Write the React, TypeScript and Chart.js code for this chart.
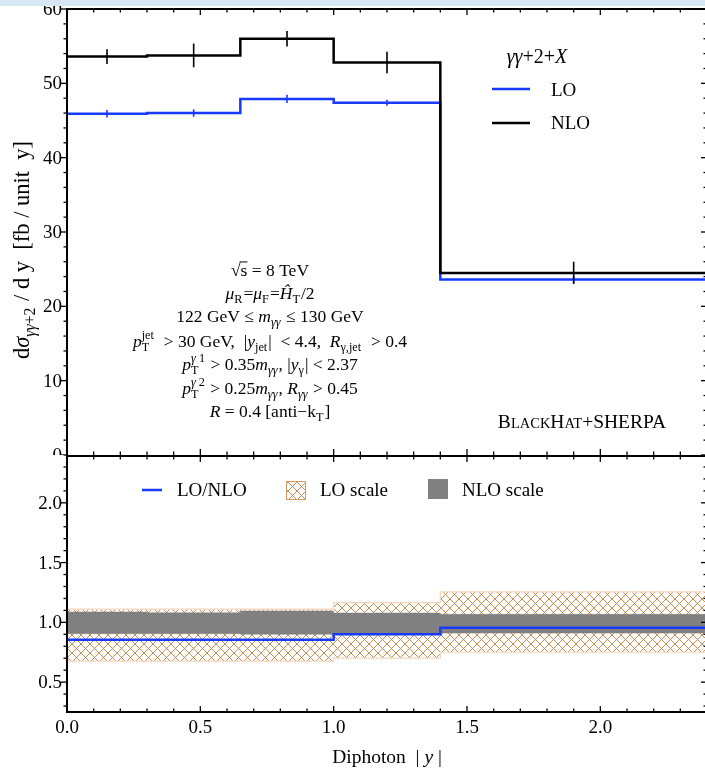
import React, { useEffect, useRef } from "react";
import { Chart, registerables } from "chart.js";
Chart.register(...registerables);

// ---------------- data ----------------
const binEdges = [0, 0.3, 0.65, 1.0, 1.4, 2.4];
const binCenters = [0.15, 0.475, 0.825, 1.2, 1.9];
const nloValues = [53.6, 53.75, 56.0, 52.8, 24.5];
const nloErrors = [1.0, 1.6, 1.05, 1.45, 1.5];
const loValues = [45.9, 46.0, 47.9, 47.4, 23.6];
const loErrors = [0.5, 0.5, 0.55, 0.4, 0.5];
const ratioValues = [0.855, 0.855, 0.855, 0.9, 0.955];
const nloScaleLow = [0.905, 0.905, 0.9, 0.91, 0.91];
const nloScaleHigh = [1.087, 1.08, 1.095, 1.078, 1.067];
const loScaleLow = [0.675, 0.675, 0.675, 0.7, 0.75];
const loScaleHigh = [1.11, 1.11, 1.11, 1.165, 1.255];
const topYTicks = [0, 10, 20, 30, 40, 50, 60];
const bottomYTicks = [0.5, 1.0, 1.5, 2.0];
const xTickLabels = ["0.0", "0.5", "1.0", "1.5", "2.0"];
const xTickValues = [0, 0.5, 1.0, 1.5, 2.0];

const FONT = '"Liberation Serif", "Times New Roman", serif';
const BLUE = "rgb(24,58,255)";
const font = (size: number, italic = false) => `${italic ? "italic " : ""}${size}px ${FONT}`;

type Run = { t: string; i?: boolean };
type Seg = { t?: string; i?: boolean; over?: boolean; sub?: Run[]; sup?: Run[] };

function runsWidth(ctx: CanvasRenderingContext2D, runs: Run[], size: number) {
  let w = 0;
  for (const r of runs) {
    ctx.font = font(size, r.i);
    w += ctx.measureText(r.t).width;
  }
  return w;
}
function drawRuns(ctx: CanvasRenderingContext2D, runs: Run[], x: number, y: number, size: number) {
  for (const r of runs) {
    ctx.font = font(size, r.i);
    ctx.fillText(r.t, x, y);
    x += ctx.measureText(r.t).width;
  }
}
function segWidth(ctx: CanvasRenderingContext2D, s: Seg, size: number) {
  if (s.sub || s.sup) {
    return Math.max(s.sub ? runsWidth(ctx, s.sub, size * 0.7) : 0, s.sup ? runsWidth(ctx, s.sup, size * 0.7) : 0) + 1;
  }
  ctx.font = font(size, s.i);
  return ctx.measureText(s.t || "").width;
}
function drawRich(ctx: CanvasRenderingContext2D, segs: Seg[], x: number, y: number, size: number, align = "center") {
  const widths = segs.map((s) => segWidth(ctx, s, size));
  const total = widths.reduce((a, b) => a + b, 0);
  let cx = align === "center" ? x - total / 2 : align === "right" ? x - total : x;
  const base = y + size * 0.32;
  ctx.textAlign = "left";
  ctx.textBaseline = "alphabetic";
  ctx.fillStyle = "#000";
  segs.forEach((s, k) => {
    if (s.sub || s.sup) {
      if (s.sub) drawRuns(ctx, s.sub, cx, base + size * 0.24, size * 0.7);
      if (s.sup) drawRuns(ctx, s.sup, cx, base - size * 0.42, size * 0.7);
    } else {
      ctx.font = font(size, s.i);
      ctx.fillText(s.t || "", cx, base);
      if (s.over) {
        ctx.strokeStyle = "#000";
        ctx.lineWidth = 1;
        ctx.beginPath();
        ctx.moveTo(cx - 1, base - size * 0.78);
        ctx.lineTo(cx + widths[k], base - size * 0.78);
        ctx.stroke();
      }
    }
    cx += widths[k];
  });
}

const annotationLines: Seg[][] = [
  [{ t: "√" }, { t: "s", over: true }, { t: " = 8 TeV" }],
  [{ t: "μ", i: true }, { sub: [{ t: "R" }] }, { t: "=" }, { t: "μ", i: true }, { sub: [{ t: "F" }] }, { t: "=" }, { t: "Ĥ", i: true }, { sub: [{ t: "T" }] }, { t: "/2" }],
  [{ t: "122 GeV ≤ " }, { t: "m", i: true }, { sub: [{ t: "γγ", i: true }] }, { t: " ≤ 130 GeV" }],
  [{ t: "p", i: true }, { sub: [{ t: "T" }], sup: [{ t: "jet" }] }, { t: "  > 30 GeV,  |" }, { t: "y", i: true }, { sub: [{ t: "jet" }] }, { t: "|  < 4.4,  " }, { t: "R", i: true }, { sub: [{ t: "γ,jet" }] }, { t: "  > 0.4" }],
  [{ t: "p", i: true }, { sub: [{ t: "T" }], sup: [{ t: "γ", i: true }, { t: " 1" }] }, { t: " > 0.35" }, { t: "m", i: true }, { sub: [{ t: "γγ", i: true }] }, { t: ", |" }, { t: "y", i: true }, { sub: [{ t: "γ" }] }, { t: "| < 2.37" }],
  [{ t: "p", i: true }, { sub: [{ t: "T" }], sup: [{ t: "γ", i: true }, { t: " 2" }] }, { t: " > 0.25" }, { t: "m", i: true }, { sub: [{ t: "γγ", i: true }] }, { t: ", " }, { t: "R", i: true }, { sub: [{ t: "γγ", i: true }] }, { t: " > 0.45" }],
  [{ t: "R", i: true }, { t: " = 0.4 [anti−k" }, { sub: [{ t: "T" }] }, { t: "]" }],
];
const annotationY = [270, 293, 316, 341, 364, 388, 411];

function stepPoints(values: number[]) {
  return binEdges.map((e, i) => ({ x: e, y: values[Math.min(i, values.length - 1)] }));
}

let hatchCache: CanvasPattern | null = null;
function hatch(): CanvasPattern {
  if (hatchCache) return hatchCache;
  const c = document.createElement("canvas");
  c.width = 9;
  c.height = 9;
  const g = c.getContext("2d")!;
  g.strokeStyle = "rgb(200,128,65)";
  g.lineWidth = 0.9;
  g.beginPath();
  g.moveTo(0, 0);
  g.lineTo(9, 9);
  g.moveTo(9, 0);
  g.lineTo(0, 9);
  g.stroke();
  hatchCache = g.createPattern(c, "repeat")!;
  return hatchCache;
}

function drawXTicks(ctx: CanvasRenderingContext2D, chart: any, y: number, dir: number) {
  const xs = chart.scales.x;
  ctx.strokeStyle = "#000";
  ctx.lineWidth = 1.3;
  for (let k = 0; k <= 24; k++) {
    const v = k / 10;
    const px = xs.getPixelForValue(v);
    const len = k % 5 === 0 ? 6 : 3.5;
    ctx.beginPath();
    ctx.moveTo(px, y);
    ctx.lineTo(px, y + dir * len);
    ctx.stroke();
  }
}
function drawYTicks(ctx: CanvasRenderingContext2D, chart: any, min: number, max: number, minor: number, majorEvery: number) {
  const ys = chart.scales.y;
  const a = chart.chartArea;
  ctx.strokeStyle = "#000";
  ctx.lineWidth = 1.3;
  const start = Math.ceil(min / minor - 1e-6);
  for (let k = start; k <= Math.floor(max / minor + 1e-6); k++) {
    const v = k * minor;
    const py = ys.getPixelForValue(v);
    const major = Math.abs(v / majorEvery - Math.round(v / majorEvery)) < 1e-6;
    const len = major ? 6 : 3.5;
    ctx.beginPath();
    ctx.moveTo(a.left, py);
    ctx.lineTo(a.left - len, py);
    ctx.stroke();
    ctx.beginPath();
    ctx.moveTo(a.right, py);
    ctx.lineTo(a.right - len, py);
    ctx.stroke();
  }
}

const topPlugin = {
  id: "topDecor",
  afterDatasetsDraw(chart: any) {
    const ctx = chart.ctx as CanvasRenderingContext2D;
    const xs = chart.scales.x;
    const ys = chart.scales.y;
    ctx.save();
    ctx.lineWidth = 1.6;
    ctx.strokeStyle = BLUE;
    loValues.forEach((v, i) => {
      const px = xs.getPixelForValue(binCenters[i]);
      ctx.beginPath();
      ctx.moveTo(px, ys.getPixelForValue(v - loErrors[i]));
      ctx.lineTo(px, ys.getPixelForValue(v + loErrors[i]));
      ctx.stroke();
    });
    ctx.strokeStyle = "#000";
    nloValues.forEach((v, i) => {
      const px = xs.getPixelForValue(binCenters[i]);
      ctx.beginPath();
      ctx.moveTo(px, ys.getPixelForValue(v - nloErrors[i]));
      ctx.lineTo(px, ys.getPixelForValue(v + nloErrors[i]));
      ctx.stroke();
    });
    ctx.restore();
  },
  afterDraw(chart: any) {
    const ctx = chart.ctx as CanvasRenderingContext2D;
    const a = chart.chartArea;
    const ys = chart.scales.y;
    ctx.save();
    ctx.strokeStyle = "#000";
    ctx.lineWidth = 2;
    ctx.beginPath();
    ctx.moveTo(a.left, a.bottom);
    ctx.lineTo(a.left, a.top);
    ctx.lineTo(a.right, a.top);
    ctx.lineTo(a.right, a.bottom);
    ctx.stroke();
    drawXTicks(ctx, chart, a.top, 1);
    drawXTicks(ctx, chart, a.bottom, -1);
    drawYTicks(ctx, chart, 0, 60, 2, 10);
    ctx.fillStyle = "#000";
    ctx.font = font(19);
    ctx.textAlign = "right";
    ctx.textBaseline = "middle";
    topYTicks.forEach((v) => ctx.fillText(String(v), a.left - 5, ys.getPixelForValue(v) + 1));
    // y title
    ctx.save();
    ctx.translate(22, 250);
    ctx.rotate(-Math.PI / 2);
    drawRich(
      ctx,
      [
        { t: "d" },
        { t: "σ", i: true },
        { sub: [{ t: "γγ", i: true }, { t: "+2" }] },
        { t: " / d y  [fb / unit  y]" },
      ],
      0,
      0,
      22.5
    );
    ctx.restore();
    // legend
    drawRich(ctx, [{ t: "γγ", i: true }, { t: "+2+" }, { t: "X", i: true }], 537, 57, 20);
    ctx.lineWidth = 2.5;
    ctx.strokeStyle = BLUE;
    ctx.beginPath();
    ctx.moveTo(492, 89);
    ctx.lineTo(530, 89);
    ctx.stroke();
    ctx.strokeStyle = "#000";
    ctx.beginPath();
    ctx.moveTo(492, 123);
    ctx.lineTo(530, 123);
    ctx.stroke();
    drawRich(ctx, [{ t: "LO" }], 551, 90, 19, "left");
    drawRich(ctx, [{ t: "NLO" }], 551, 123, 19, "left");
    // annotations
    annotationLines.forEach((line, k) => drawRich(ctx, line, 270, annotationY[k], 17.5));
    // BlackHat+Sherpa small caps
    const parts: [string, number][] = [
      ["B", 19.5],
      ["LACK", 14.5],
      ["H", 19.5],
      ["AT", 14.5],
      ["+SHERPA", 19.5],
    ];
    let tw = 0;
    parts.forEach(([t, s]) => {
      ctx.font = font(s);
      tw += ctx.measureText(t).width;
    });
    let cx = 582 - tw / 2;
    ctx.textAlign = "left";
    ctx.textBaseline = "alphabetic";
    parts.forEach(([t, s]) => {
      ctx.font = font(s);
      ctx.fillText(t, cx, 428);
      cx += ctx.measureText(t).width;
    });
    ctx.restore();
  },
};

const bottomPlugin = {
  id: "bottomDecor",
  beforeDraw(chart: any) {
    const ctx = chart.ctx as CanvasRenderingContext2D;
    ctx.save();
    ctx.fillStyle = "#fff";
    ctx.fillRect(0, 0, chart.width, chart.height);
    ctx.restore();
  },
  afterDraw(chart: any) {
    const ctx = chart.ctx as CanvasRenderingContext2D;
    const a = chart.chartArea;
    const xs = chart.scales.x;
    const ys = chart.scales.y;
    ctx.save();
    ctx.strokeStyle = "#000";
    ctx.lineWidth = 2;
    ctx.beginPath();
    ctx.moveTo(a.left, a.top + 1);
    ctx.lineTo(a.right, a.top + 1);
    ctx.moveTo(a.left, a.top);
    ctx.lineTo(a.left, a.bottom);
    ctx.lineTo(a.right, a.bottom);
    ctx.lineTo(a.right, a.top);
    ctx.stroke();
    drawXTicks(ctx, chart, a.top + 1, 1);
    drawXTicks(ctx, chart, a.bottom, -1);
    drawYTicks(ctx, chart, 0.25, 2.4, 0.1, 0.5);
    ctx.fillStyle = "#000";
    ctx.font = font(19);
    ctx.textAlign = "right";
    ctx.textBaseline = "middle";
    bottomYTicks.forEach((v) => ctx.fillText(v.toFixed(1), a.left - 5, ys.getPixelForValue(v) + 1));
    ctx.textAlign = "center";
    xTickValues.forEach((v, k) => ctx.fillText(xTickLabels[k], xs.getPixelForValue(v), a.bottom + 16));
    drawRich(ctx, [{ t: "Diphoton  | " }, { t: "y", i: true }, { t: " |" }], 387, a.bottom + 45, 19.5);
    // legend
    const ly = 35;
    ctx.strokeStyle = BLUE;
    ctx.lineWidth = 2.5;
    ctx.beginPath();
    ctx.moveTo(142, ly);
    ctx.lineTo(162, ly);
    ctx.stroke();
    drawRich(ctx, [{ t: "LO/NLO" }], 177, ly, 19, "left");
    ctx.fillStyle = "#fff";
    ctx.fillRect(286, ly - 9, 20, 19);
    ctx.fillStyle = hatch();
    ctx.fillRect(286, ly - 9, 20, 19);
    ctx.strokeStyle = "rgb(215,155,100)";
    ctx.lineWidth = 1;
    ctx.strokeRect(286.5, ly - 8.5, 19, 18);
    drawRich(ctx, [{ t: "LO scale" }], 320, ly, 19, "left");
    ctx.fillStyle = "#808080";
    ctx.fillRect(428, ly - 11, 20, 20);
    drawRich(ctx, [{ t: "NLO scale" }], 462, ly, 19, "left");
    ctx.restore();
  },
};

export default function App() {
  const topRef = useRef<HTMLCanvasElement>(null);
  const botRef = useRef<HTMLCanvasElement>(null);

  useEffect(() => {
    const common = {
      animation: false as const,
      responsive: false,
      maintainAspectRatio: false,
      plugins: { legend: { display: false }, tooltip: { enabled: false } },
      elements: { point: { radius: 0 } },
    };
    const top = new Chart(topRef.current!, {
      type: "line",
      data: {
        datasets: [
          { label: "NLO", data: stepPoints(nloValues), borderColor: "#000", borderWidth: 2.5, stepped: "before", fill: false, pointRadius: 0 },
          { label: "LO", data: stepPoints(loValues), borderColor: BLUE, borderWidth: 2.5, stepped: "before", fill: false, pointRadius: 0 },
        ],
      },
      options: {
        ...common,
        layout: { padding: { left: 67, top: 9, right: 13, bottom: 1 } },
        scales: {
          x: { type: "linear", min: 0, max: 2.4, display: false },
          y: { type: "linear", min: 0, max: 60, display: false },
        },
      },
      plugins: [topPlugin],
    } as any);

    const bottom = new Chart(botRef.current!, {
      type: "line",
      data: {
        datasets: [
          { label: "LO/NLO", data: stepPoints(ratioValues), borderColor: BLUE, borderWidth: 2.5, stepped: "before", fill: false, pointRadius: 0, order: 0 },
          { label: "nloLow", data: stepPoints(nloScaleLow), borderColor: "#808080", borderWidth: 0.5, stepped: "before", fill: false, pointRadius: 0, order: 1 },
          { label: "nloHigh", data: stepPoints(nloScaleHigh), borderColor: "#808080", borderWidth: 0.5, stepped: "before", fill: "-1", backgroundColor: "#808080", pointRadius: 0, order: 1 },
          { label: "loLow", data: stepPoints(loScaleLow), borderColor: "rgb(242,215,190)", borderWidth: 1.2, stepped: "before", fill: false, pointRadius: 0, order: 2 },
          { label: "loHigh", data: stepPoints(loScaleHigh), borderColor: "rgb(242,215,190)", borderWidth: 1.2, stepped: "before", fill: "-1", backgroundColor: hatch(), pointRadius: 0, order: 2 },
        ],
      },
      options: {
        ...common,
        layout: { padding: { left: 67, top: 0, right: 13, bottom: 56 } },
        scales: {
          x: { type: "linear", min: 0, max: 2.4, display: false },
          y: { type: "linear", min: 0.25, max: 2.4, display: false },
        },
      },
      plugins: [bottomPlugin],
    } as any);

    return () => {
      top.destroy();
      bottom.destroy();
    };
  }, []);

  return (
    <div style={{ position: "absolute", left: 0, top: 0, width: 705, height: 768, overflow: "hidden", background: "#fff" }}>
      <canvas ref={topRef} width={720} height={456} style={{ position: "absolute", left: 0, top: 0, width: 720, height: 456 }} />
      <canvas ref={botRef} width={720} height={313} style={{ position: "absolute", left: 0, top: 455, width: 720, height: 313 }} />
      <div style={{ position: "absolute", left: 0, top: 0, width: 705, height: 6, background: "#d7e7f3" }} />
    </div>
  );
}
